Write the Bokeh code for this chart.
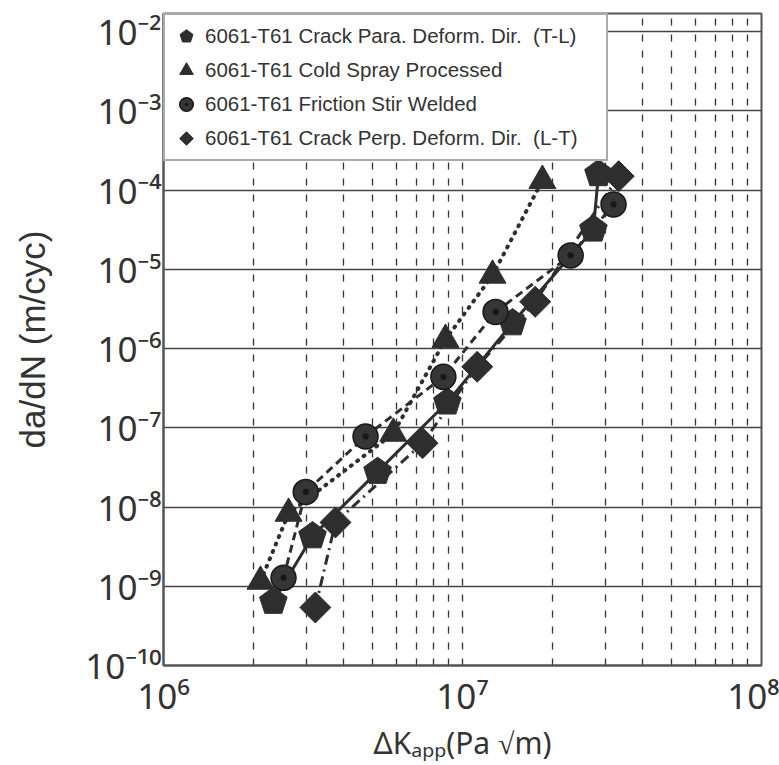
from bokeh.plotting import figure
from bokeh.models import FixedTicker, Legend, LegendItem, Range1d
from bokeh.embed import file_html
from bokeh.resources import INLINE

# ---- data ----
tl_dk = [2.33e6, 3.15e6, 5.2e6, 8.9e6, 1.47e7, 2.74e7, 2.85e7]
tl_dadn = [6.4e-10, 4.3e-9, 2.8e-8, 2.1e-7, 2.1e-6, 3.2e-5, 1.6e-4]

cs_dk = [2.11e6, 2.62e6, 5.87e6, 8.77e6, 1.26e7, 1.85e7]
cs_dadn = [1.15e-9, 8.3e-9, 8.5e-8, 1.3e-6, 8.4e-6, 1.32e-4]

fsw_dk = [2.52e6, 2.99e6, 4.74e6, 8.63e6, 1.29e7, 2.30e7, 3.2e7]
fsw_dadn = [1.28e-9, 1.55e-8, 7.8e-8, 4.4e-7, 2.9e-6, 1.5e-5, 6.6e-5]

lt_dk = [3.22e6, 3.76e6, 7.35e6, 1.12e7, 1.75e7, 3.33e7]
lt_dadn = [5.4e-10, 6.4e-9, 6.4e-8, 5.9e-7, 3.9e-6, 1.5e-4]

series_labels = [
    "6061-T61 Crack Para. Deform. Dir.  (T-L)",
    "6061-T61 Cold Spray Processed",
    "6061-T61 Friction Stir Welded",
    "6061-T61 Crack Perp. Deform. Dir.  (L-T)",
]

x_ticks = [1e6, 1e7, 1e8]
x_tick_labels = ["10\u2076", "10\u2077", "10\u2078"]
y_ticks = [1e-10, 1e-9, 1e-8, 1e-7, 1e-6, 1e-5, 1e-4, 1e-3, 1e-2]
y_tick_labels = ["10\u207b\u00b9\u2070", "10\u207b\u2079", "10\u207b\u2078", "10\u207b\u2077",
                 "10\u207b\u2076", "10\u207b\u2075", "10\u207b\u2074", "10\u207b\u00b3",
                 "10\u207b\u00b2"]
x_grid_ticks = [2e6, 3e6, 4e6, 5e6, 6e6, 7e6, 8e6, 9e6, 1e7,
                2e7, 3e7, 4e7, 5e7, 6e7, 7e7, 8e7, 9e7]
y_grid_ticks = [1e-9, 1e-8, 1e-7, 1e-6, 1e-5, 1e-4, 1e-3, 1e-2]

# ---- styling ----
INK = "#2e2e2e"
FRAME = "#555555"
TICK_FONT = "Noto Sans"

p = figure(width=779, height=765, x_axis_type="log", y_axis_type="log",
           x_range=Range1d(1e6, 1e8), y_range=Range1d(1e-10, 10 ** -1.77),
           output_backend="svg", toolbar_location=None,
           min_border_left=163, min_border_right=18, min_border_top=13,
           min_border_bottom=97)

p.outline_line_color = FRAME
p.outline_line_width = 2

for ax in (p.xaxis[0], p.yaxis[0]):
    ax.axis_line_color = FRAME
    ax.axis_line_width = 2
    ax.major_tick_line_color = None
    ax.minor_tick_line_color = None
    ax.major_tick_out = 0
    ax.major_tick_in = 0
    ax.minor_tick_out = 0
    ax.minor_tick_in = 0
    ax.major_label_text_font = TICK_FONT
    ax.major_label_text_font_size = "35px"
    ax.major_label_text_color = "#333333"
    ax.axis_label_text_font_style = "normal"
    ax.axis_label_text_color = "#333333"

p.xaxis.ticker = FixedTicker(ticks=x_ticks, minor_ticks=[])
p.xaxis.major_label_overrides = dict(zip(x_ticks, x_tick_labels))
p.xaxis.major_label_standoff = 6
p.xaxis.axis_label = "\u0394K\u2090\u209a\u209a(Pa \u221am)"
p.xaxis.axis_label_text_font = TICK_FONT
p.xaxis.axis_label_text_font_size = "30px"
p.xaxis.axis_label_standoff = 0

p.yaxis.ticker = FixedTicker(ticks=y_ticks, minor_ticks=[])
p.yaxis.major_label_overrides = dict(zip(y_ticks, y_tick_labels))
p.yaxis.major_label_standoff = 2
p.yaxis.axis_label = "da/dN (m/cyc)"
p.yaxis.axis_label_text_font = "Liberation Sans"
p.yaxis.axis_label_text_font_size = "35px"
p.yaxis.axis_label_standoff = 30

p.xgrid.ticker = FixedTicker(ticks=x_grid_ticks, minor_ticks=[])
p.xgrid.grid_line_color = "#333333"
p.xgrid.grid_line_width = 1.3
p.xgrid.grid_line_dash = "7 9"
p.xgrid.grid_line_alpha = 1.0

p.ygrid.ticker = FixedTicker(ticks=y_grid_ticks, minor_ticks=[])
p.ygrid.grid_line_color = "#444444"
p.ygrid.grid_line_width = 1.6
p.ygrid.grid_line_alpha = 1.0

# ---- lines ----
p.line(tl_dk, tl_dadn, line_color=INK, line_width=3)
p.line(cs_dk, cs_dadn, line_color=INK, line_width=4, line_dash="1 7", line_cap="round")
p.line(fsw_dk, fsw_dadn, line_color=INK, line_width=3, line_dash="8 5")
p.line(lt_dk, lt_dadn, line_color=INK, line_width=3, line_dash="10 5 2 5")

# ---- markers ----
r_tl = p.ngon(x=tl_dk, y=tl_dadn, radius=14.5, radius_units="screen", n=5,
              fill_color=INK, line_color=INK)
r_cs = p.scatter(cs_dk, cs_dadn, marker="triangle", size=27, fill_color=INK, line_color=INK)
r_fsw = p.scatter(fsw_dk, fsw_dadn, marker="circle_dot", size=25, fill_color="#363636",
                  line_color="#181818", line_width=1.5)
r_lt = p.ngon(x=lt_dk, y=lt_dadn, radius=15.5, radius_units="screen", n=4,
              fill_color=INK, line_color=INK)

legend = Legend(items=[LegendItem(label=series_labels[0], renderers=[r_tl]),
                       LegendItem(label=series_labels[1], renderers=[r_cs]),
                       LegendItem(label=series_labels[2], renderers=[r_fsw]),
                       LegendItem(label=series_labels[3], renderers=[r_lt])],
                location="top_left")
legend.margin = 0
legend.padding = 4
legend.spacing = 0
legend.glyph_width = 34
legend.glyph_height = 34
legend.label_standoff = 2
legend.label_width = 397
legend.label_height = 31
legend.label_text_font = "Liberation Sans"
legend.label_text_font_size = "20.5px"
legend.label_text_color = "#333333"
legend.border_line_color = FRAME
legend.border_line_width = 2
legend.background_fill_alpha = 1.0
p.add_layout(legend, "center")

open("out.html", "w").write(file_html(p, INLINE))
